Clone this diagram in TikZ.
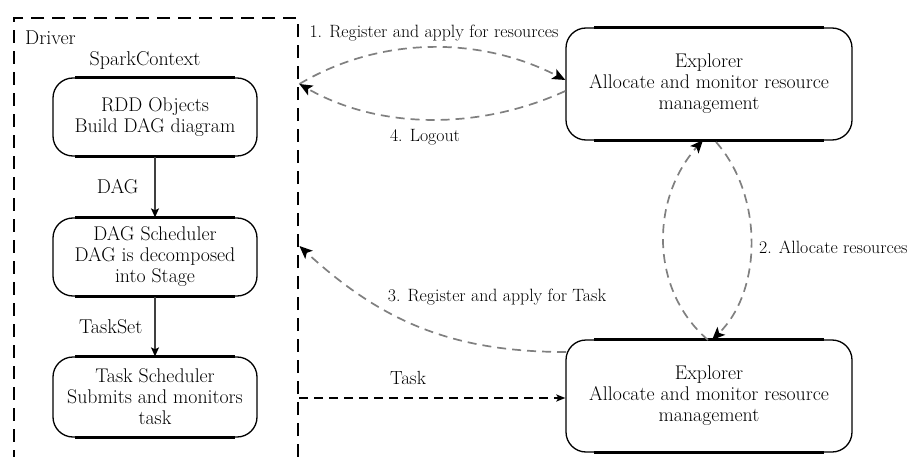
\documentclass[tikz,border=0pt]{standalone}
\usetikzlibrary{arrows.meta}
\begin{document}
\begin{tikzpicture}[x=1pt,y=-1pt,
  box/.style={draw, line width=1.3pt, rounded corners=20pt, align=center,
    font=\fontsize{19.8}{21}\selectfont, inner sep=0pt},
  inlbl/.style={font=\fontsize{20}{21}\selectfont, inner sep=0pt},
  lbl/.style={font=\fontsize{17.8}{20}\selectfont, inner sep=0pt},
  flow/.style={draw=black!75, line width=1.2pt, -{Stealth[length=9pt,width=8pt,inset=2pt,color=black]}},
  garrow/.style={draw=black!50, dash pattern=on 9pt off 6pt, line width=1.7pt,
    -{Stealth[length=13pt,width=11pt,inset=3pt,color=black]}},
  taskarrow/.style={draw=black, dash pattern=on 9pt off 6pt, line width=1.7pt,
    -{Stealth[length=9pt,width=7pt,inset=2pt]}},
  driverbox/.style={draw, dash pattern=on 13pt off 8pt, line width=2.4pt},
  thick edge/.style={line width=3.2pt}
]
\useasboundingbox (0,0) rectangle (907,457);
\clip (0,0) rectangle (907,457);

% Driver container
\node[driverbox, minimum width=284pt, minimum height=470pt, inner sep=0pt, anchor=north west] (driver) at (13,17) {};
\node[inlbl, anchor=west] (drvlbl) at (25,38) {Driver};
\node[inlbl] (spark) at (145,60) {SparkContext};

% Driver boxes
\node[box, minimum width=204pt, minimum height=78pt] (rdd) at (155,117) {RDD Objects\\Build DAG diagram};
\node[box, minimum width=204pt, minimum height=78pt] (dags) at (155,257) {DAG Scheduler\\DAG is decomposed\\into Stage};
\node[box, minimum width=204pt, minimum height=80pt] (tasks) at (155,397) {Task Scheduler\\Submits and monitors\\task};

% Explorers
\node[box, minimum width=286pt, minimum height=112pt] (exp1) at (709,84) {Explorer\\Allocate and monitor resource\\management};
\node[box, minimum width=286pt, minimum height=112pt] (exp2) at (709,396) {Explorer\\Allocate and monitor resource\\management};

% thick straight edges
\foreach \n/\r in {rdd/23, dags/23, tasks/23, exp1/29, exp2/29}{
  \draw[thick edge] ([xshift=\r pt]\n.north west) -- ([xshift=-\r pt]\n.north east);
  \draw[thick edge] ([xshift=\r pt]\n.south west) -- ([xshift=-\r pt]\n.south east);
}

% internal flows
\draw[flow] (rdd.south) -- (dags.north) node[pos=0.5, left=16pt, inlbl] (daglbl) {DAG};
\draw[flow] (dags.south) -- (tasks.north) node[pos=0.5, left=12pt, inlbl] (tslbl) {TaskSet};

% coordinates on driver border
\coordinate (d1) at (driver.east |- 0,84);
\coordinate (d3) at (driver.east |- 0,246);
\coordinate (d5) at (driver.east |- 0,398);
\coordinate (e1a) at (exp1.west |- 0,80);
\coordinate (e1b) at (exp1.west |- 0,91);
\coordinate (e1c) at (703,140);
\coordinate (e1d) at (716,142);
\coordinate (e2a) at (708,340);
\coordinate (e2b) at (712,340);
\coordinate (e2c) at (566,352);

% 1 and 4
\draw[garrow] (d1) .. controls (380,36) and (480,36) .. (e1a);
\draw[garrow] (e1b) .. controls (480,130) and (380,130) .. (d1);
\node[lbl] (l1) at (434,33) {1. Register and apply for resources};
\node[lbl] (l4) at (425,137) {4. Logout};

% 2
\draw[garrow] (e2a) .. controls (650,290) and (650,200) .. (e1c);
\draw[garrow] (e1d) .. controls (763,195) and (763,290) .. (e2b);
\node[lbl, anchor=west] (l2) at (759,247) {2. Allocate resources};

% 3
\draw[garrow] (e2c) .. controls (450,352) and (380,320) .. (d3);
\node[lbl] (l3) at (497,297) {3. Register and apply for Task};

% Task
\draw[taskarrow] (d5) -- (exp2.west |- d5);
\node[lbl, font=\fontsize{19}{21}\selectfont] (ltask) at (408,378) {Task};
\end{tikzpicture}
\end{document}
